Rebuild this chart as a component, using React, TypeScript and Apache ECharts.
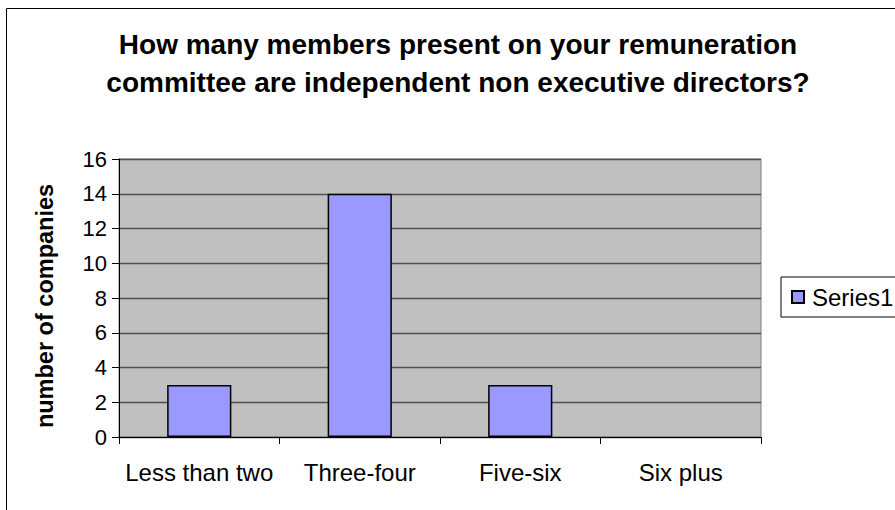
import React, { useEffect, useRef } from "react";
import * as echarts from "echarts";

const categories = ["Less than two", "Three-four", "Five-six", "Six plus"];
const seriesValues = [3, 14, 3, 0];
const seriesName = "Series1";
const titleLines = [
  "How many members present on your remuneration",
  "committee are independent non executive directors?",
];
const yAxisTitle = "number of companies";
const yMin = 0;
const yMax = 16;
const yInterval = 2;

const FONT = "'Liberation Sans', Arial, sans-serif";

export default function App() {
  const ref = useRef<HTMLDivElement>(null);
  useEffect(() => {
    const chart = echarts.init(ref.current!, null, { renderer: "svg" });
    chart.setOption({
      animation: false,
      backgroundColor: "#ffffff",
      title: {
        text: titleLines.join("\n"),
        left: 458,
        top: 25,
        padding: 0,
        textAlign: "center",
        textStyle: {
          fontFamily: FONT,
          fontSize: 28,
          fontWeight: "bold",
          color: "#000",
          lineHeight: 38,
        },
      },
      legend: {
        left: 781,
        top: 277,
        padding: [8, 20, 8, 10],
        backgroundColor: "#fff",
        borderColor: "#000",
        borderWidth: 1,
        icon: "rect",
        itemWidth: 12,
        itemHeight: 12,
        data: [seriesName],
        textStyle: {
          fontFamily: FONT,
          fontSize: 24,
          color: "#000",
          padding: [0, 0, 0, 3],
        },
      },
      grid: {
        left: 119,
        top: 159,
        right: 134,
        bottom: 73,
        show: true,
        backgroundColor: "#C0C0C0",
        borderColor: "#808080",
        borderWidth: 1,
      },
      xAxis: {
        type: "category",
        data: categories,
        axisLine: { lineStyle: { color: "#000", width: 1 } },
        axisTick: { show: true, length: 7, interval: 0, lineStyle: { color: "#000" } },
        axisLabel: {
          interval: 0,
          fontFamily: FONT,
          fontSize: 24,
          color: "#000",
          margin: 23,
        },
      },
      yAxis: {
        type: "value",
        min: yMin,
        max: yMax,
        interval: yInterval,
        name: yAxisTitle,
        nameLocation: "middle",
        nameRotate: 90,
        nameGap: 62,
        nameTextStyle: {
          fontFamily: FONT,
          fontSize: 23.5,
          fontWeight: "bold",
          color: "#000",
          padding: [0, 16, 0, 0],
        },
        axisLine: { show: true, lineStyle: { color: "#000", width: 1 } },
        axisTick: { show: true, length: 7, lineStyle: { color: "#000" } },
        axisLabel: {
          fontFamily: FONT,
          fontSize: 22,
          color: "#000",
          margin: 12,
        },
        splitLine: { show: true, lineStyle: { color: "#505050", width: 1.3 } },
      },
      graphic: [
        {
          type: "rect",
          shape: { x: 6.5, y: 8.5, width: 1000, height: 1000 },
          style: { fill: "none", stroke: "#000", lineWidth: 1 },
          silent: true,
          z: 100,
        },
      ],
      series: [
        {
          name: seriesName,
          type: "bar",
          data: seriesValues.map((v) =>
            v === 0 ? { value: v, itemStyle: { borderWidth: 0 } } : v
          ),
          barWidth: "40%",
          itemStyle: {
            color: "#9999FF",
            borderColor: "#000",
            borderWidth: 1.5,
          },
        },
      ],
    });
    return () => chart.dispose();
  }, []);
  return (
    <div
      ref={ref}
      style={{ position: "fixed", left: 0, top: 0, width: 895, height: 510 }}
    />
  );
}
